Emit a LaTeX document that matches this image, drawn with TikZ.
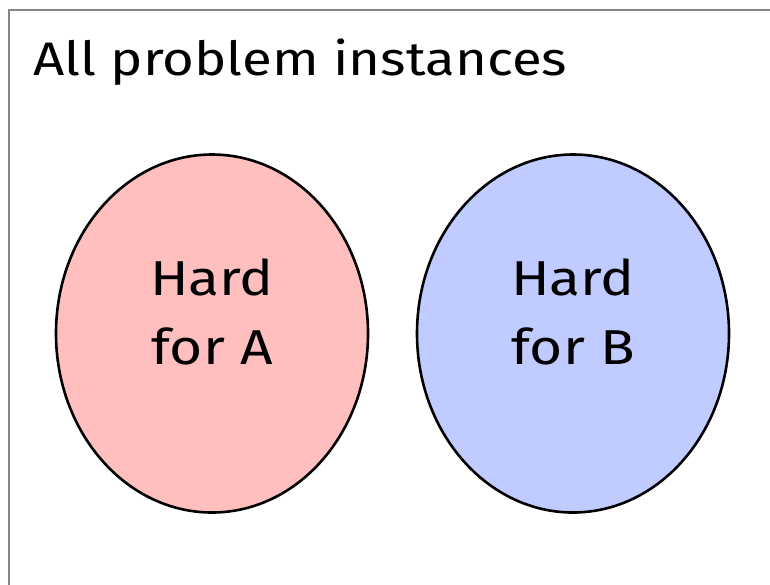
\documentclass[tikz,border=0pt]{standalone}
\usepackage{fontspec}
\setmainfont[FakeStretch=1.16]{Fira Sans}
\usetikzlibrary{shapes.geometric, positioning}

\definecolor{hardpink}{RGB}{255,191,191}
\definecolor{hardblue}{RGB}{192,204,255}

\tikzset{
  setellipse/.style={ellipse, draw=black, line width=2.6pt,
    minimum width=312pt, minimum height=358pt, inner sep=0pt},
  setlabel/.style={align=center, font=\fontsize{49}{69}\selectfont},
}

\begin{document}
\begin{tikzpicture}[x=1pt, y=-1pt]
  \useasboundingbox (0,0) rectangle (770,584);
  \fill[white] (0,0) rectangle (770,584);

  % frame of all instances
  \draw[gray!95!white, line width=2pt] (9,600) -- (9,9.5) -- (790,9.5);
  \node[anchor=base west, inner sep=0pt, font=\fontsize{47}{56}\selectfont]
    (title) at (33,75) {All problem instances};

  \node[setellipse, fill=hardpink] (setA) at (212,333.5) {};
  \node[setellipse, fill=hardblue] (setB) at (573,333.5) {};

  \node[setlabel] (labA) at ([yshift=22pt]setA.center) {Hard\\for A};
  \node[setlabel] (labB) at ([yshift=22pt]setB.center) {Hard\\for B};
\end{tikzpicture}
\end{document}
